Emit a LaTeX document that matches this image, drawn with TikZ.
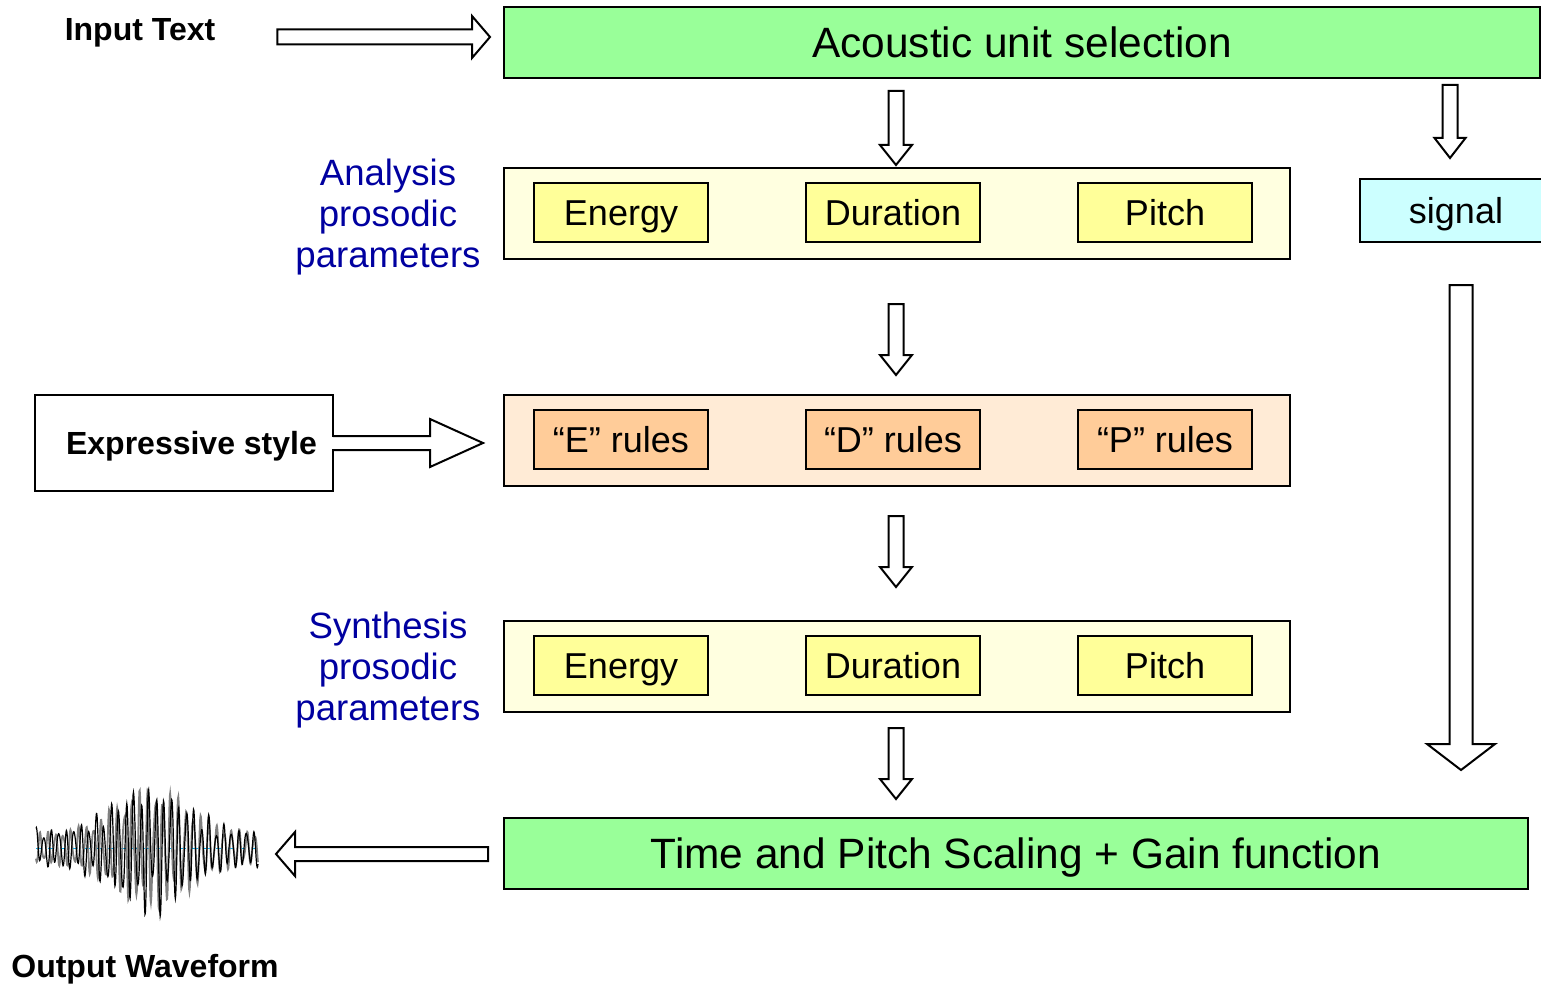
\documentclass[tikz,border=0pt]{standalone}
\usepackage{fontspec}
\setmainfont{Liberation Sans}
\usetikzlibrary{calc}
\definecolor{boxgreen}{HTML}{99FF99}
\definecolor{boxyellow}{HTML}{FFFF99}
\definecolor{boxorange}{HTML}{FFCC99}
\definecolor{boxcyan}{HTML}{CCFFFF}
\definecolor{panelyellow}{HTML}{FFFFE0}
\definecolor{panelorange}{HTML}{FFEBD6}
\definecolor{labelblue}{HTML}{0000A0}
\definecolor{wavegray}{HTML}{808080}

% vertical (downward) block arrow: start, tip, shaft half width, head half width, head length
\newcommand\dbarrow[5]{%
  \draw[barrow] let \p1=(#1), \p2=(#2) in
   (\x1-#3,\y1) -- (\x1+#3,\y1) -- (\x1+#3,\y2+#5) -- (\x1+#4,\y2+#5) -- (\x1,\y2)
   -- (\x1-#4,\y2+#5) -- (\x1-#3,\y2+#5) -- cycle;}
% rightward block arrow
\newcommand\rbarrow[5]{%
  \draw[barrow] let \p1=(#1), \p2=(#2) in
   (\x1,\y1+#3) -- (\x2-#5,\y1+#3) -- (\x2-#5,\y1+#4) -- (\x2,\y1) -- (\x2-#5,\y1-#4)
   -- (\x2-#5,\y1-#3) -- (\x1,\y1-#3) -- cycle;}
% leftward block arrow
\newcommand\lbarrow[5]{%
  \draw[barrow] let \p1=(#1), \p2=(#2) in
   (\x1,\y1+#3) -- (\x2+#5,\y1+#3) -- (\x2+#5,\y1+#4) -- (\x2,\y1) -- (\x2+#5,\y1-#4)
   -- (\x2+#5,\y1-#3) -- (\x1,\y1-#3) -- cycle;}

\tikzset{
  barrow/.style={draw=black, fill=white, line width=1pt, line join=miter},
  greenbox/.style={draw, line width=1pt, fill=boxgreen, minimum height=35.5pt,
    font=\fontsize{21.2}{25}\selectfont, text height=19.4pt, text depth=4.2pt},
  panel/.style={draw, line width=1pt, minimum width=393pt, minimum height=45.5pt},
  param/.style={draw, line width=0.9pt, minimum width=87pt, minimum height=29.5pt,
    font=\fontsize{18}{22}\selectfont, text height=16.5pt, text depth=3.6pt},
  bluelabel/.style={text=labelblue, align=center, font=\fontsize{18.3}{20.5}\selectfont},
  boldlabel/.style={font=\fontsize{16}{19}\selectfont\bfseries, text height=14.7pt, text depth=3.2pt},
}

\begin{document}
\begin{tikzpicture}[x=0.5pt,y=-0.5pt, every node/.style={inner sep=0pt, outer sep=0pt}]
\useasboundingbox (0,0) rectangle (1541,984);

% main boxes
\node[greenbox, minimum width=518pt] (acoustic) at (1022,42.5) {Acoustic unit selection};
\node[greenbox, minimum width=512pt] (scaling) at (1016,853.5) {Time and Pitch Scaling + Gain function};
\node[draw, line width=1pt, fill=boxcyan, minimum width=95pt, minimum height=31.5pt] (signal) at (1455,210.5) {};
\node[font=\fontsize{18}{22}\selectfont, text height=16.5pt, text depth=3.6pt] (signaltext) at (1456,210.5) {signal};

% panels
\node[panel, fill=panelyellow] (analysis) at (897,213.5) {};
\node[panel, fill=panelorange] (rules) at (897,440.5) {};
\node[panel, fill=panelyellow] (synthesis) at (897,666.5) {};

% parameter boxes
\node[param, fill=boxyellow] (aE) at (621,212.5) {Energy};
\node[param, fill=boxyellow] (aD) at (893,212.5) {Duration};
\node[param, fill=boxyellow] (aP) at (1165,212.5) {Pitch};
\node[param, fill=boxorange] (rE) at (621,439.5) {“E” rules};
\node[param, fill=boxorange] (rD) at (893,439.5) {“D” rules};
\node[param, fill=boxorange] (rP) at (1165,439.5) {“P” rules};
\node[param, fill=boxyellow] (sE) at (621,665.5) {Energy};
\node[param, fill=boxyellow] (sD) at (893,665.5) {Duration};
\node[param, fill=boxyellow] (sP) at (1165,665.5) {Pitch};

% labels
\node[bluelabel] (alabel) at (388,217) {Analysis\\prosodic\\parameters};
\node[bluelabel] (slabel) at (388,670) {Synthesis\\prosodic\\parameters};
\node[boldlabel] (input) at (140,29) {Input Text};
\node[boldlabel] (output) at (145,966) {Output Waveform};

% expressive style box with emerging arrow
\node[draw, line width=1pt, fill=white, minimum width=149pt, minimum height=48pt] (expbox) at (184,443) {};
\node[boldlabel] (exptext) at (191.5,443) {Expressive style};
\coordinate (expA) at ($(expbox.east)+(0,-7)$);
\coordinate (expB) at ($(expbox.east)+(0,7)$);
\coordinate (exptip) at ($(rules.west)+(-21,2.5)$);
\fill[white] ($(expA)+(-2,1)$) rectangle ($(expB)+(2,-1)$);
\draw[line width=1pt, line join=miter] (expA) -- ++(97,0) -- ++(0,-17) -- (exptip)
  -- ($(expB)+(97,17)$) -- ++(0,-17) -- (expB);

% block arrows
\coordinate (inS) at ($(input.east)+(62,8)$);
\coordinate (inT) at ($(acoustic.west)+(-14,-5.5)$);
\rbarrow{inS}{inT}{3.75pt}{10.5pt}{9pt}

\dbarrow{$(acoustic.south -| aD.north)+(3,13)$}{$(analysis.north -| aD.north)+(3,-3)$}{3.75pt}{8pt}{10pt}
\dbarrow{$(analysis.south -| aD.north)+(3,45)$}{$(rules.north -| aD.north)+(3,-20)$}{3.75pt}{8pt}{10pt}
\dbarrow{$(rules.south -| aD.north)+(3,30)$}{$(synthesis.north -| aD.north)+(3,-34)$}{3.75pt}{8pt}{10pt}
\dbarrow{$(synthesis.south -| aD.north)+(3,16)$}{$(scaling.north -| aD.north)+(3,-19)$}{3.75pt}{8pt}{10pt}

\dbarrow{$(acoustic.south -| signal.north)+(-5,7)$}{$(signal.north)+(-5,-21)$}{3.75pt}{7.75pt}{10pt}
\dbarrow{$(signal.south)+(6,43)$}{$(scaling.north -| signal.south)+(6,-48)$}{5.75pt}{17pt}{13pt}

\coordinate (outS) at ($(scaling.west)+(-16,0.5)$);
\coordinate (outT) at (276,854);
\lbarrow{outS}{outT}{3.5pt}{11pt}{9.5pt}

% waveform
\coordinate (wave) at (147,848);
\draw[cyan, dashed, line width=0.5pt] ($(wave)+(-111,0)$) -- ($(wave)+(111,0)$);
\draw[wavegray, line width=0.9pt] plot[domain=-111:111, samples=600]
  ({147+\x}, {848 - (16+46*exp(-((\x-6)/52)^2))*(0.8*sin(47*\x+70)+0.2*sin(83*\x))});
\draw[black, line width=0.6pt] plot[domain=-111:111, samples=600]
  ({147+\x}, {848 - (18+44*exp(-((\x-3)/50)^2))*(0.8*sin(48*\x)+0.2*sin(71*\x+40)+0.15*sin(19*\x))});
\end{tikzpicture}
\end{document}
